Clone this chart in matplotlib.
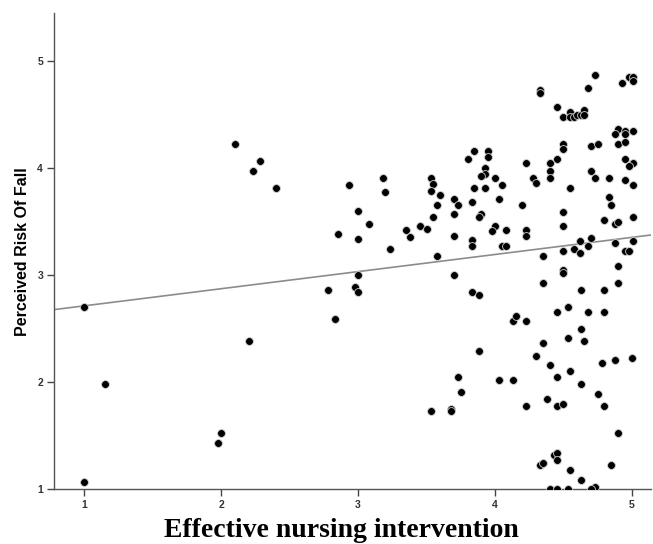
import matplotlib
matplotlib.use("Agg")
import matplotlib.pyplot as plt
import numpy as np

# Data
nursing_intervention = [
    1.00, 1.15, 1.00, 1.98, 2.00, 2.20,
    2.10, 2.28, 2.23, 2.40,
    2.78, 2.83, 2.98, 3.00, 3.00,
    2.93, 3.18, 3.20, 3.00, 3.08, 2.85, 3.00, 3.23,
    3.35, 3.38, 3.45, 3.50,
    3.53, 3.55, 3.53, 3.60, 3.58, 3.55, 3.58,
    3.70, 3.73, 3.70, 3.70, 3.70,
    3.80, 3.85, 3.95, 3.95, 3.93, 3.93, 3.90,
    4.00, 4.05, 3.85, 3.93, 4.03, 3.83,
    3.90, 3.88, 4.00, 3.98, 4.08, 3.83, 3.83, 4.05, 4.08,
    4.23, 4.28, 4.30, 4.20, 4.23, 4.23, 4.35,
    3.83, 3.88, 3.88, 3.73, 3.75, 3.53, 3.68, 3.68,
    4.03, 4.13, 4.13, 4.15, 4.23, 4.23,
    4.33, 4.33, 4.45,
    4.50, 4.55, 4.55, 4.58, 4.60, 4.63, 4.65, 4.65,
    4.73, 4.68, 4.93, 4.98, 5.01, 5.01,
    4.50, 4.50, 4.45, 4.40, 4.40, 4.40, 4.55,
    4.70, 4.75, 4.70, 4.73, 4.83,
    4.90, 4.88, 4.95, 5.01, 4.95, 4.90, 4.95,
    4.95, 5.01, 4.98, 4.95, 5.01,
    4.83, 4.85, 4.50, 4.50, 4.80, 4.88, 4.90, 5.01,
    4.70, 4.62, 4.68, 4.88, 5.01,
    4.50, 4.58, 4.62, 4.95, 4.98,
    4.50, 4.50, 4.90, 4.35, 4.90,
    4.63, 4.80, 4.45, 4.53, 4.68, 4.80,
    4.30, 4.35, 4.40, 4.38, 4.45, 4.53, 4.55,
    4.45, 4.50, 4.63, 4.65, 4.63, 4.75,
    4.78, 4.88, 5.00, 4.80, 4.90,
    4.33, 4.35, 4.43, 4.45, 4.45, 4.55, 4.63,
    4.73, 4.70, 4.40, 4.45, 4.53, 4.85,
]
risk_of_fall = [
    2.70, 1.98, 1.07, 1.43, 1.53, 2.39,
    4.23, 4.07, 3.98, 3.82,
    2.86, 2.59, 2.89, 2.84, 3.00,
    3.84, 3.91, 3.78, 3.60, 3.48, 3.39, 3.34, 3.25,
    3.42, 3.36, 3.46, 3.43,
    3.91, 3.85, 3.79, 3.75, 3.66, 3.55, 3.18,
    3.71, 3.66, 3.57, 3.37, 3.00,
    4.09, 4.16, 4.16, 4.11, 4.00, 3.95, 3.93,
    3.91, 3.84, 3.82, 3.82, 3.71, 3.69,
    3.57, 3.55, 3.46, 3.41, 3.42, 3.33, 3.27, 3.27, 3.27,
    4.05, 3.91, 3.86, 3.66, 3.42, 3.37, 3.18,
    2.84, 2.82, 2.29, 2.05, 1.91, 1.73, 1.75, 1.73,
    2.02, 2.02, 2.57, 2.62, 2.57, 1.78,
    4.73, 4.70, 4.57,
    4.48, 4.53, 4.48, 4.48, 4.50, 4.50, 4.55, 4.50,
    4.87, 4.75, 4.80, 4.85, 4.85, 4.82,
    4.23, 4.18, 4.09, 4.05, 3.98, 3.91, 3.82,
    4.21, 4.23, 3.98, 3.91, 3.91,
    4.37, 4.32, 4.35, 4.35, 4.32, 4.23, 4.25,
    4.09, 4.05, 4.02, 3.89, 3.84,
    3.73, 3.66, 3.59, 3.46, 3.52, 3.48, 3.50, 3.55,
    3.35, 3.32, 3.27, 3.30, 3.32,
    3.23, 3.25, 3.21, 3.23, 3.23,
    3.05, 3.02, 3.09, 2.93, 2.93,
    2.86, 2.86, 2.66, 2.70, 2.66, 2.66,
    2.25, 2.37, 2.16, 1.84, 2.05, 2.41, 2.11,
    1.78, 1.80, 2.50, 2.39, 1.98, 1.89,
    2.18, 2.21, 2.23, 1.78, 1.53,
    1.23, 1.25, 1.32, 1.34, 1.27, 1.18, 1.09,
    1.02, 1.00, 1.00, 1.00, 1.00, 1.23,
]
fit_intercept = 2.555
fit_slope = 0.16
x_ticks = [1, 2, 3, 4, 5]
y_ticks = [1, 2, 3, 4, 5]

fig = plt.figure(figsize=(6.53, 5.44), dpi=100)
ax = fig.add_axes([0.083, 0.1006, 0.914, 0.875])

xmin, xmax = 0.78, 5.14
ymin, ymax = 1.0, 5.45

ax.scatter(nursing_intervention, risk_of_fall, s=32, c="black",
           edgecolors="#d0d0d0", linewidths=0.6, zorder=3)

xl = np.array([xmin, xmax])
ax.plot(xl, fit_intercept + fit_slope * xl, color="#8c8c8c", lw=1.2, zorder=2)

ax.set_xlim(xmin, xmax)
ax.set_ylim(ymin, ymax)
ax.set_xticks(x_ticks)
ax.set_yticks(y_ticks)
ax.set_xticklabels([str(t) for t in x_ticks], fontsize=7.5, fontweight="bold",
                   color="#333333", family="Liberation Sans")
ax.set_yticklabels([str(t) for t in y_ticks], fontsize=7.5, fontweight="bold",
                   color="#333333", family="Liberation Sans")
ax.tick_params(axis="both", direction="out", length=5, width=1, color="#444444", pad=3)

for s in ["top", "right"]:
    ax.spines[s].set_visible(False)
for s in ["left", "bottom"]:
    ax.spines[s].set_color("#555555")
    ax.spines[s].set_linewidth(1)

ax.set_ylabel("Perceived Risk Of Fall", fontsize=11.5, fontweight="bold",
              family="Liberation Sans", labelpad=5)
fig.text(341 / 653, 1.0 / 544, "Effective nursing intervention", fontsize=20,
         fontweight="bold", family="Liberation Serif", ha="center", va="bottom")

fig.savefig("out.png", dpi=100)
